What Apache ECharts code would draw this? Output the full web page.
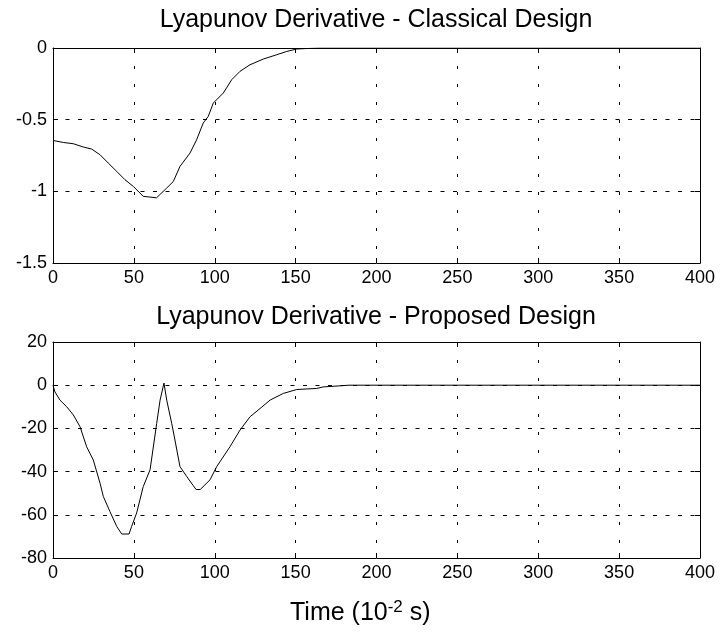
<!DOCTYPE html>
<html>
<head>
<meta charset="utf-8">
<script src="https://cdn.jsdelivr.net/npm/echarts@6/dist/echarts.min.js"></script>
<style>html,body{margin:0;padding:0;background:#fff;}#c{width:720px;height:634px;}</style>
</head>
<body>
<div id="c"></div>
<script>
// ---- data ----
const classicalT = [0,6.4,12.6,18.8,23.9,29.1,34.2,39.4,44.5,49.7,55.8,57,64,70.3,74.4,78.5,84.7,88.8,92.9,96,99.1,105.3,110.5,115.6,121.8,130,138.3,144.5,150.7,158,165,400];
const classicalV = [-0.645,-0.659,-0.668,-0.691,-0.705,-0.745,-0.803,-0.861,-0.919,-0.966,-1.035,-1.045,-1.045,-0.977,-0.931,-0.826,-0.733,-0.64,-0.523,-0.477,-0.384,-0.314,-0.221,-0.163,-0.117,-0.077,-0.047,-0.024,-0.007,-0.003,0,0];
const proposedT = [0,1.2,4.3,8.5,12.6,16.7,20.8,24.9,29.1,31.1,35.2,39.4,42.5,47,48.6,51.7,55.8,60,64.1,66.2,68.6,70.3,73.4,75.4,78.5,82.7,86.7,88.5,91,97.1,101.2,109.4,115.6,121.8,128,134.2,142.4,150.7,163,167,177.4,183,400];
const proposedV = [0,-3.1,-6.9,-10,-13.8,-19.2,-28.5,-34.6,-45.4,-51.5,-58.5,-65.4,-68.9,-68.9,-65.4,-59.2,-46.9,-39.2,-17.7,-6.9,1,-6.9,-17.7,-25.4,-37.7,-42.3,-46.5,-48.3,-48.3,-43.8,-37.7,-28.5,-20.8,-14.6,-10.8,-6.9,-3.8,-2.0,-1.5,-0.8,-0.3,0,0];
const xRange = [0, 400, 50];
const yRangeTop = [-1.5, 0, 0.5];
const yRangeBottom = [-80, 20, 20];
const titleTop = 'Lyapunov Derivative - Classical Design';
const titleBottom = 'Lyapunov Derivative - Proposed Design';

const FONT = '"Liberation Sans", Arial, Helvetica, sans-serif';
const chart = echarts.init(document.getElementById('c'), null, {renderer: 'canvas'});

function pairs(t, v) { return t.map((x, i) => [x, v[i]]); }

function xAxes(gridIndex) {
  const common = {
    type: 'value', gridIndex, min: xRange[0], max: xRange[1], interval: xRange[2],
    axisLine: {show: true, onZero: false, lineStyle: {color: '#000', width: 1}},
    axisTick: {show: true, inside: true, length: 5, lineStyle: {color: '#000'}},
  };
  return [
    Object.assign({}, common, {
      position: 'bottom',
      axisLabel: {show: true, color: '#000', fontSize: 18, fontFamily: FONT, margin: 6},
      splitLine: {show: true, lineStyle: {color: '#000', width: 1, type: [3, 15]}}
    }),
    Object.assign({}, common, {
      position: 'top', axisLabel: {show: false}, splitLine: {show: false}
    })
  ];
}
function yAxes(gridIndex, r) {
  const common = {
    type: 'value', gridIndex, min: r[0], max: r[1], interval: r[2],
    axisLine: {show: true, onZero: false, lineStyle: {color: '#000', width: 1}},
    axisTick: {show: true, inside: true, length: 5, lineStyle: {color: '#000'}},
  };
  return [
    Object.assign({}, common, {
      position: 'left',
      axisLabel: {show: true, color: '#000', fontSize: 18, fontFamily: FONT, margin: 6},
      splitLine: {show: true, lineStyle: {color: '#000', width: 1, type: [4, 8.5]}}
    }),
    Object.assign({}, common, {
      position: 'right', axisLabel: {show: false}, splitLine: {show: false}
    })
  ];
}

const option = {
  backgroundColor: '#fff',
  animation: false,
  grid: [
    {left: 53, top: 48, width: 647, height: 215, containLabel: false},
    {left: 53, top: 342, width: 647, height: 216, containLabel: false}
  ],
  xAxis: [].concat(xAxes(0), xAxes(1)),
  yAxis: [].concat(yAxes(0, yRangeTop), yAxes(1, yRangeBottom)),
  series: [
    {type: 'line', xAxisIndex: 0, yAxisIndex: 0, data: pairs(classicalT, classicalV),
     showSymbol: false, symbol: 'none', lineStyle: {color: '#000', width: 1}, z: 5},
    {type: 'line', xAxisIndex: 2, yAxisIndex: 2, data: pairs(proposedT, proposedV),
     showSymbol: false, symbol: 'none', lineStyle: {color: '#000', width: 1}, z: 5}
  ],
  graphic: [
    {type: 'text', x: 376, y: 20, style: {text: titleTop, fill: '#000', fontSize: 25, fontFamily: FONT,
      align: 'center', verticalAlign: 'middle', textAlign: 'center', textVerticalAlign: 'middle'}},
    {type: 'text', x: 376, y: 317, style: {text: titleBottom, fill: '#000', fontSize: 25, fontFamily: FONT,
      align: 'center', verticalAlign: 'middle', textAlign: 'center', textVerticalAlign: 'middle'}},
    {type: 'text', x: 290, y: 613, style: {
      text: '{a|Time (10}{b|-2}{a| s)}', fill: '#000', fontFamily: FONT,
      align: 'left', verticalAlign: 'middle', textAlign: 'left', textVerticalAlign: 'middle',
      rich: {
        a: {fontSize: 25, lineHeight: 28, fontFamily: FONT, fill: '#000', verticalAlign: 'middle'},
        b: {fontSize: 17, lineHeight: 17, fontFamily: FONT, fill: '#000', verticalAlign: 'top'}
      }}}
  ]
};
chart.setOption(option);
</script>
</body>
</html>
